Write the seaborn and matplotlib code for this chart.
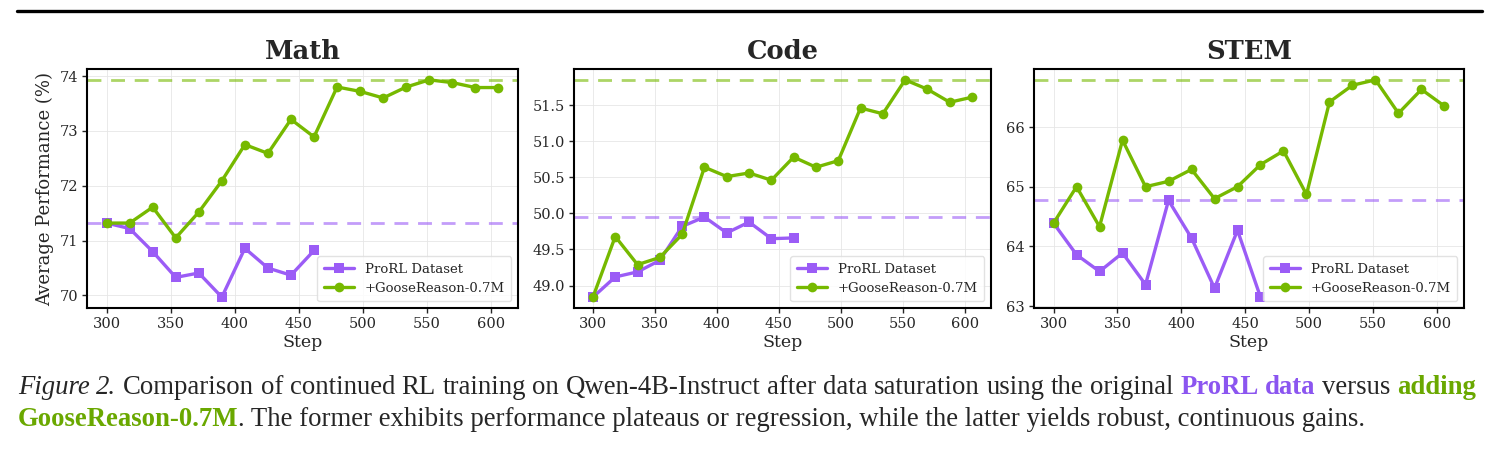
import matplotlib
matplotlib.use("Agg")
import matplotlib.pyplot as plt
import matplotlib.transforms as mtransforms
from matplotlib.lines import Line2D
import numpy as np
import pandas as pd
import seaborn as sns

# ---- data ----
steps = [300, 318, 336, 354, 372, 390, 408, 426, 444, 462,
         480, 498, 516, 534, 552, 570, 588, 606]
prorl_steps = steps[:10]

math_prorl = [71.32, 71.22, 70.80, 70.33, 70.41, 69.97, 70.86, 70.50, 70.37, 70.82]
math_goose = [71.32, 71.32, 71.61, 71.05, 71.52, 72.09, 72.75, 72.59, 73.21, 72.89,
              73.80, 73.72, 73.60, 73.80, 73.93, 73.88, 73.79, 73.79]

code_prorl = [48.84, 49.12, 49.19, 49.35, 49.82, 49.95, 49.73, 49.88, 49.65, 49.66]
code_goose = [48.84, 49.68, 49.29, 49.39, 49.71, 50.64, 50.51, 50.56, 50.46, 50.78,
              50.64, 50.73, 51.46, 51.38, 51.85, 51.72, 51.54, 51.61]

stem_prorl = [64.39, 63.86, 63.58, 63.89, 63.36, 64.77, 64.14, 63.30, 64.27, 63.15]
stem_goose = [64.39, 65.00, 64.33, 65.78, 65.00, 65.09, 65.29, 64.80, 65.00, 65.37,
              65.60, 64.87, 66.42, 66.70, 66.79, 66.23, 66.63, 66.35]

panels = ["Math", "Code", "STEM"]
prorl_vals = [math_prorl, code_prorl, stem_prorl]
goose_vals = [math_goose, code_goose, stem_goose]
yticks = [[70, 71, 72, 73, 74],
          [49.0, 49.5, 50.0, 50.5, 51.0, 51.5],
          [63, 64, 65, 66]]

lab_prorl = "ProRL Dataset"
lab_goose = "+GooseReason-0.7M"
purple = "#9b5cf6"
green = "#76b900"

sns.set_style("ticks")
plt.rcParams["font.family"] = ["DejaVu Serif"]

W, H = 1491, 450
fig = plt.figure(figsize=(W / 100, H / 100), dpi=100)

# axes boxes in pixels: left, right
boxes = [(87, 518), (574, 991), (1034, 1464)]
top_px, bot_px = 69, 308

for i, name in enumerate(panels):
    l, r = boxes[i]
    ax = fig.add_axes([l / W, 1 - bot_px / H, (r - l) / W, (bot_px - top_px) / H])
    df = pd.concat([
        pd.DataFrame({"step": prorl_steps, "score": prorl_vals[i], "method": lab_prorl}),
        pd.DataFrame({"step": steps, "score": goose_vals[i], "method": lab_goose}),
    ])
    ax.axhline(max(prorl_vals[i]), color=purple, ls=(0, (5, 3.5)), lw=2, alpha=0.6, zorder=1)
    ax.axhline(max(goose_vals[i]), color=green, ls=(0, (5, 3.5)), lw=2, alpha=0.6, zorder=1)
    sns.lineplot(data=df, x="step", y="score", hue="method", style="method",
                 hue_order=[lab_prorl, lab_goose],
                 palette={lab_prorl: purple, lab_goose: green},
                 markers={lab_prorl: "s", lab_goose: "o"}, dashes=False,
                 linewidth=2.4, markersize=7, markeredgewidth=0, ax=ax, zorder=3)
    ax.set_title(name, fontsize=18.5, fontweight="bold", pad=7)
    ax.set_xlabel("Step", fontsize=12.5, labelpad=2)
    ax.set_ylabel("Average Performance (%)" if i == 0 else "", fontsize=13)
    ax.set_xticks([300, 350, 400, 450, 500, 550, 600])
    ax.set_yticks(yticks[i])
    if name == "Code":
        ax.yaxis.set_major_formatter(matplotlib.ticker.FormatStrFormatter("%.1f"))
    ax.tick_params(labelsize=10.5, width=1, length=3.5, pad=3)
    ax.grid(True, color="#e6e6e6", lw=0.6)
    for s in ax.spines.values():
        s.set_visible(True)
        s.set_color("black")
        s.set_linewidth(1.5)
    ax.legend(loc="lower right", fontsize=9.5, frameon=True, edgecolor="#dddddd",
              framealpha=0.85, handlelength=2.3, borderpad=0.5, labelspacing=0.45)

# top rule
fig.add_artist(Line2D([17 / W, 1482 / W], [1 - 10.5 / H] * 2, color="black", lw=2.4))

# ---- caption ----
cap_font = ["Liberation Serif"]
cap_size = 19.3
pix = mtransforms.IdentityTransform()
renderer = fig.canvas.get_renderer()
cap_purple = "#8b55f0"
cap_green = "#6aa800"

line1 = [("Figure", dict(style="italic")), ("2.", dict(style="italic"))]
line1 += [(w, {}) for w in "Comparison of continued RL training on Qwen-4B-Instruct after data saturation using the original".split()]
line1 += [("ProRL", dict(weight="bold", color=cap_purple)), ("data", dict(weight="bold", color=cap_purple)),
          ("versus", {}), ("adding", dict(weight="bold", color=cap_green))]


def put(x, y, s, kw):
    t = fig.text(x, y, s, transform=pix, fontsize=cap_size, family=cap_font,
                 va="baseline", ha="left", **kw)
    return t, t.get_window_extent(renderer).width

x0, x1 = 18, 1476
y1 = H - 394
y2 = H - 426
arts = [put(0, y1, w, kw) for w, kw in line1]
gap = (x1 - x0 - sum(a[1] for a in arts)) / (len(arts) - 1)
x = x0
for t, w in arts:
    t.set_x(x)
    x += w + gap

x = x0
for s, kw in [("GooseReason-0.7M", dict(weight="bold", color=cap_green)),
              (". The former exhibits performance plateaus or regression, while the latter yields robust, continuous gains.", {})]:
    t, w = put(x, y2, s, kw)
    x += w

fig.savefig("out.png", dpi=100)
